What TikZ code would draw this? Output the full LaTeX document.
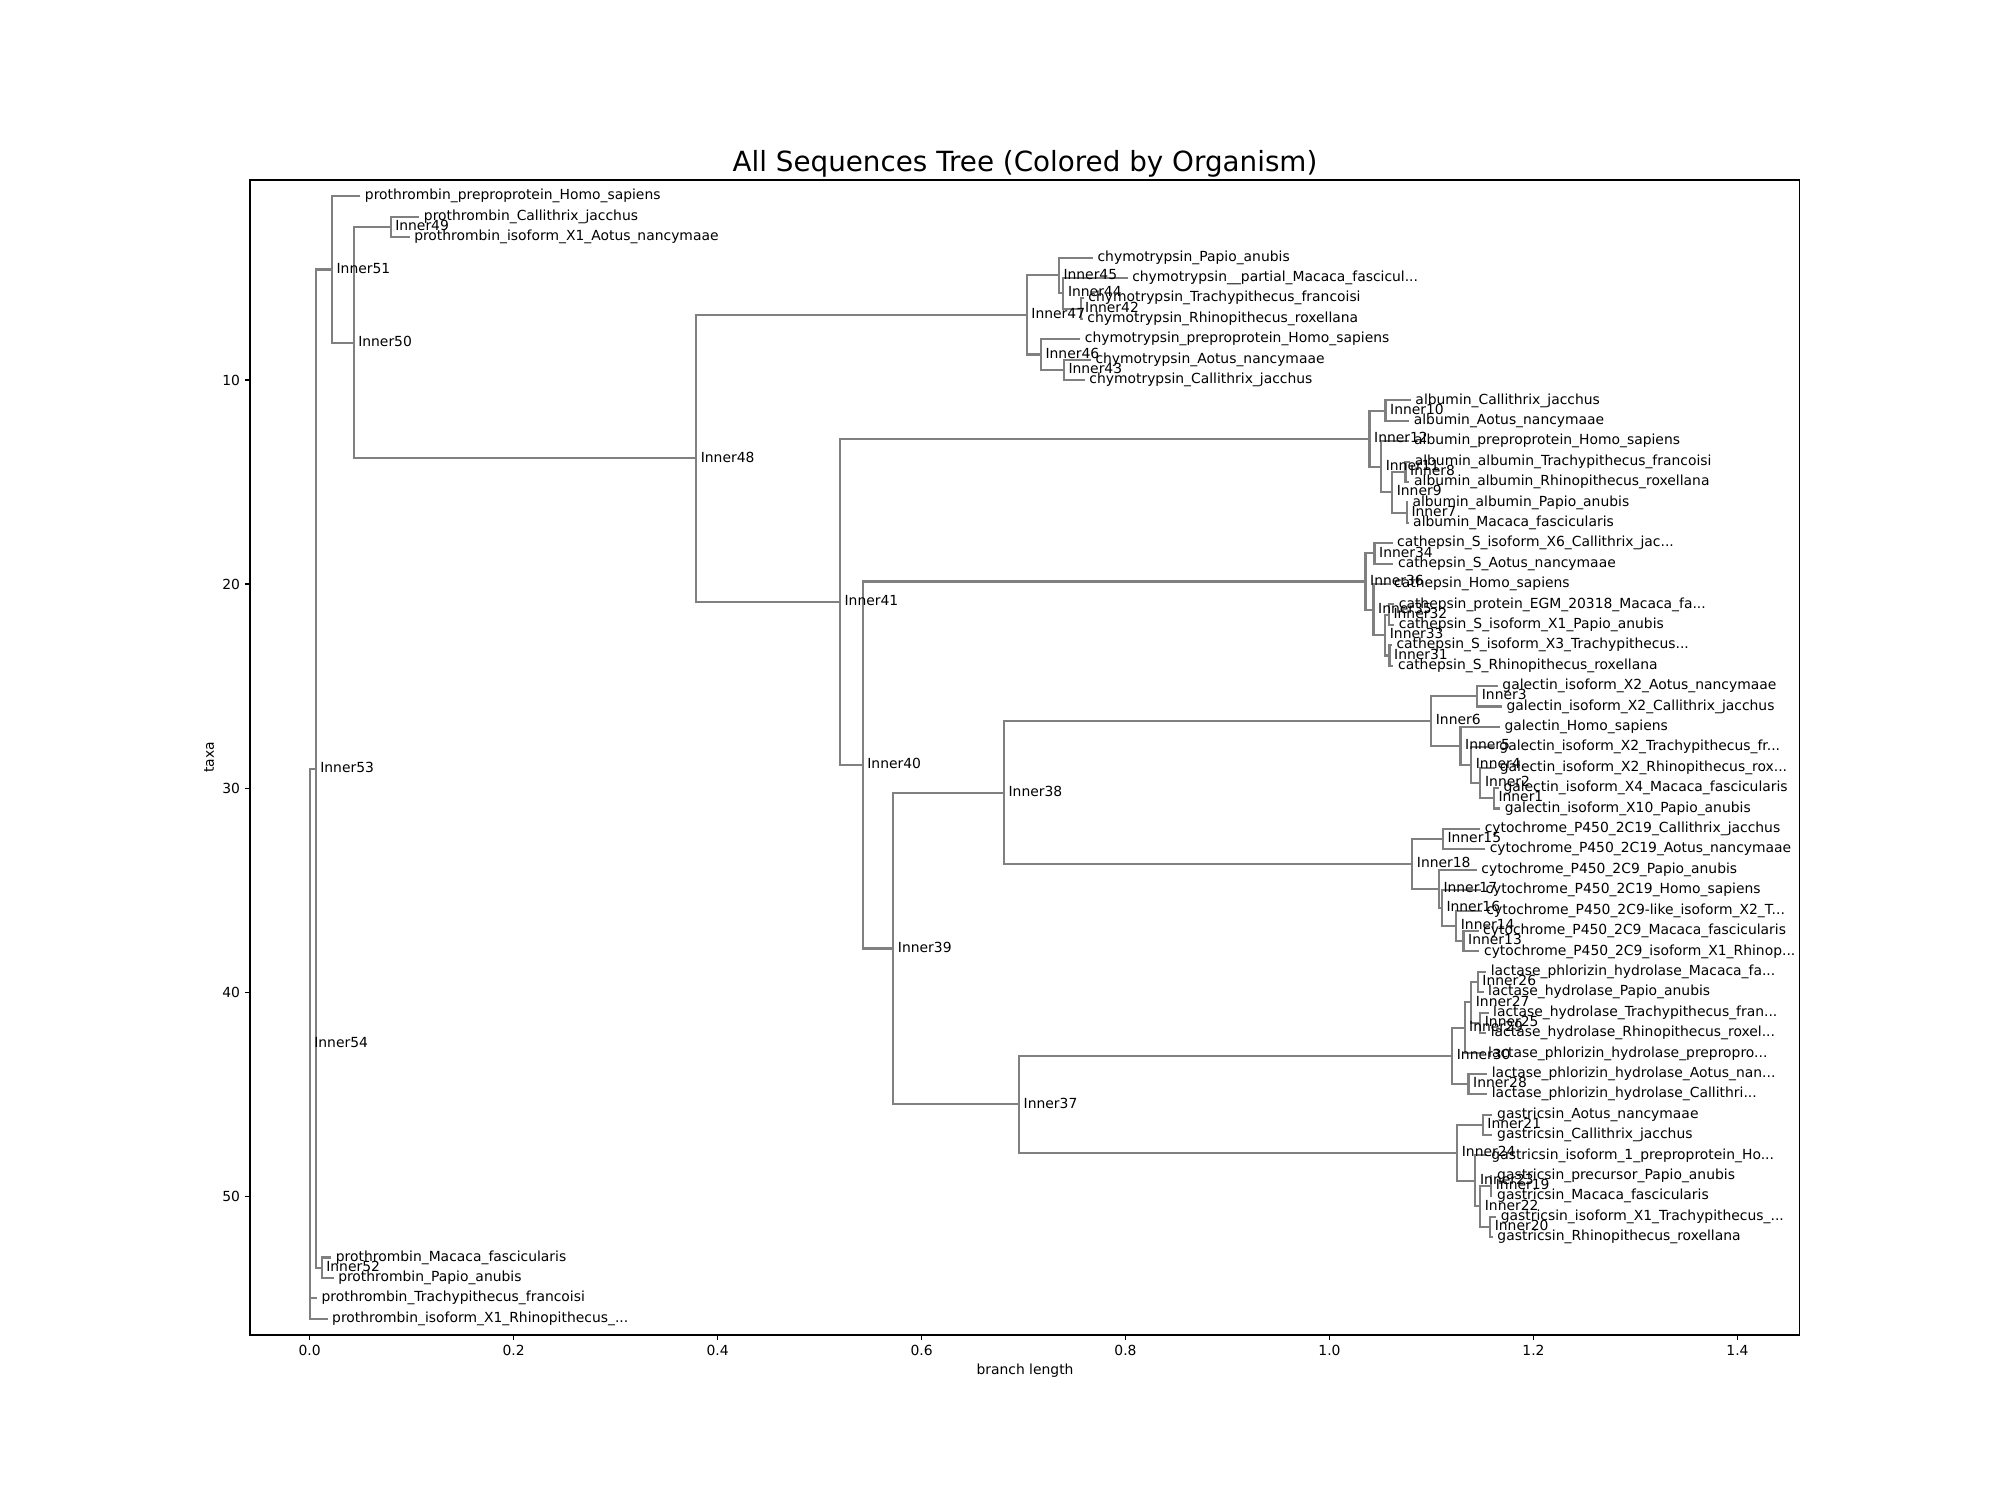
\documentclass[tikz,border=0pt]{standalone}
\usepackage{fontspec}
\setmainfont{DejaVu Sans}
\usetikzlibrary{backgrounds}
\definecolor{treegray}{HTML}{808080}

\begin{document}
\begin{tikzpicture}[
  x=734.3pt, y=-14.692pt,
  font=\fontsize{10}{12}\selectfont,
  br/.style={draw=treegray, line width=1.5pt},
  spine/.style={draw=black, line width=0.8pt},
  tip/.style={anchor=west, inner xsep=3.18pt, inner ysep=0pt,
              text height=7.6pt, text depth=2.36pt},
  ytl/.style={anchor=east, inner sep=0pt, text height=7.6pt, text depth=0pt},
  xtl/.style={anchor=base, inner sep=0pt}
]
\useasboundingbox (-0.30356,-8.6210) rectangle (1.65742,64.887);

% leaves
\node[tip] (t1) at (0.0497,1) {prothrombin\_preproprotein\_Homo\_sapiens};
\node[tip] (t2) at (0.1075,2) {prothrombin\_Callithrix\_jacchus};
\node[tip] (t3) at (0.0980,3) {prothrombin\_isoform\_X1\_Aotus\_nancymaae};
\node[tip] (t4) at (0.7680,4) {chymotrypsin\_Papio\_anubis};
\node[tip] (t5) at (0.8020,5) {chymotrypsin\_\_partial\_Macaca\_fascicul...};
\node[tip] (t6) at (0.7590,6) {chymotrypsin\_Trachypithecus\_francoisi};
\node[tip] (t7) at (0.7580,7) {chymotrypsin\_Rhinopithecus\_roxellana};
\node[tip] (t8) at (0.7556,8) {chymotrypsin\_preproprotein\_Homo\_sapiens};
\node[tip] (t9) at (0.7660,9) {chymotrypsin\_Aotus\_nancymaae};
\node[tip] (t10) at (0.7600,10) {chymotrypsin\_Callithrix\_jacchus};
\node[tip] (t11) at (1.0797,11) {albumin\_Callithrix\_jacchus};
\node[tip] (t12) at (1.0781,12) {albumin\_Aotus\_nancymaae};
\node[tip] (t13) at (1.0784,13) {albumin\_preproprotein\_Homo\_sapiens};
\node[tip] (t14) at (1.0790,14) {albumin\_albumin\_Trachypithecus\_francoisi};
\node[tip] (t15) at (1.0784,15) {albumin\_albumin\_Rhinopithecus\_roxellana};
\node[tip] (t16) at (1.0768,16) {albumin\_albumin\_Papio\_anubis};
\node[tip] (t17) at (1.0775,17) {albumin\_Macaca\_fascicularis};
\node[tip] (t18) at (1.0618,18) {cathepsin\_S\_isoform\_X6\_Callithrix\_jac...};
\node[tip] (t19) at (1.0627,19) {cathepsin\_S\_Aotus\_nancymaae};
\node[tip] (t20) at (1.0588,20) {cathepsin\_Homo\_sapiens};
\node[tip] (t21) at (1.0634,21) {cathepsin\_protein\_EGM\_20318\_Macaca\_fa...};
\node[tip] (t22) at (1.0634,22) {cathepsin\_S\_isoform\_X1\_Papio\_anubis};
\node[tip] (t23) at (1.0611,23) {cathepsin\_S\_isoform\_X3\_Trachypithecus...};
\node[tip] (t24) at (1.0627,24) {cathepsin\_S\_Rhinopithecus\_roxellana};
\node[tip] (t25) at (1.1650,25) {galectin\_isoform\_X2\_Aotus\_nancymaae};
\node[tip] (t26) at (1.1690,26) {galectin\_isoform\_X2\_Callithrix\_jacchus};
\node[tip] (t27) at (1.1670,27) {galectin\_Homo\_sapiens};
\node[tip] (t28) at (1.1620,28) {galectin\_isoform\_X2\_Trachypithecus\_fr...};
\node[tip] (t29) at (1.1624,29) {galectin\_isoform\_X2\_Rhinopithecus\_rox...};
\node[tip] (t30) at (1.1660,30) {galectin\_isoform\_X4\_Macaca\_fascicularis};
\node[tip] (t31) at (1.1673,31) {galectin\_isoform\_X10\_Papio\_anubis};
\node[tip] (t32) at (1.1477,32) {cytochrome\_P450\_2C19\_Callithrix\_jacchus};
\node[tip] (t33) at (1.1526,33) {cytochrome\_P450\_2C19\_Aotus\_nancymaae};
\node[tip] (t34) at (1.1444,34) {cytochrome\_P450\_2C9\_Papio\_anubis};
\node[tip] (t35) at (1.1484,35) {cytochrome\_P450\_2C19\_Homo\_sapiens};
\node[tip] (t36) at (1.1493,36) {cytochrome\_P450\_2C9-like\_isoform\_X2\_T...};
\node[tip] (t37) at (1.1461,37) {cytochrome\_P450\_2C9\_Macaca\_fascicularis};
\node[tip] (t38) at (1.1470,38) {cytochrome\_P450\_2C9\_isoform\_X1\_Rhinop...};
\node[tip] (t39) at (1.1536,39) {lactase\_phlorizin\_hydrolase\_Macaca\_fa...};
\node[tip] (t40) at (1.1510,40) {lactase\_hydrolase\_Papio\_anubis};
\node[tip] (t41) at (1.1559,41) {lactase\_hydrolase\_Trachypithecus\_fran...};
\node[tip] (t42) at (1.1536,42) {lactase\_hydrolase\_Rhinopithecus\_roxel...};
\node[tip] (t43) at (1.1510,43) {lactase\_phlorizin\_hydrolase\_prepropro...};
\node[tip] (t44) at (1.1546,44) {lactase\_phlorizin\_hydrolase\_Aotus\_nan...};
\node[tip] (t45) at (1.1546,45) {lactase\_phlorizin\_hydrolase\_Callithri...};
\node[tip] (t46) at (1.1598,46) {gastricsin\_Aotus\_nancymaae};
\node[tip] (t47) at (1.1598,47) {gastricsin\_Callithrix\_jacchus};
\node[tip] (t48) at (1.1542,48) {gastricsin\_isoform\_1\_preproprotein\_Ho...};
\node[tip] (t49) at (1.1598,49) {gastricsin\_precursor\_Papio\_anubis};
\node[tip] (t50) at (1.1598,50) {gastricsin\_Macaca\_fascicularis};
\node[tip] (t51) at (1.1634,51) {gastricsin\_isoform\_X1\_Trachypithecus\_...};
\node[tip] (t52) at (1.1601,52) {gastricsin\_Rhinopithecus\_roxellana};
\node[tip] (t53) at (0.0212,53) {prothrombin\_Macaca\_fascicularis};
\node[tip] (t54) at (0.0235,54) {prothrombin\_Papio\_anubis};
\node[tip] (t55) at (0.0072,55) {prothrombin\_Trachypithecus\_francoisi};
\node[tip] (t56) at (0.0176,56) {prothrombin\_isoform\_X1\_Rhinopithecus\_...};

% inner clades
\node[tip] (n1) at (1.1611,30.5) {Inner1};
\node[tip] (n2) at (1.1480,29.75) {Inner2};
\node[tip] (n3) at (1.1448,25.5) {Inner3};
\node[tip] (n4) at (1.1389,28.875) {Inner4};
\node[tip] (n5) at (1.1284,27.9375) {Inner5};
\node[tip] (n6) at (1.0997,26.71875) {Inner6};
\node[tip] (n7) at (1.0758,16.5) {Inner7};
\node[tip] (n8) at (1.0745,14.5) {Inner8};
\node[tip] (n9) at (1.0614,15.5) {Inner9};
\node[tip] (n10) at (1.0549,11.5) {Inner10};
\node[tip] (n11) at (1.0506,14.25) {Inner11};
\node[tip] (n12) at (1.0392,12.875) {Inner12};
\node[tip] (n13) at (1.1314,37.5) {Inner13};
\node[tip] (n14) at (1.1242,36.75) {Inner14};
\node[tip] (n15) at (1.1111,32.5) {Inner15};
\node[tip] (n16) at (1.1101,35.875) {Inner16};
\node[tip] (n17) at (1.1072,34.9375) {Inner17};
\node[tip] (n18) at (1.0811,33.71875) {Inner18};
\node[tip] (n19) at (1.1585,49.5) {Inner19};
\node[tip] (n20) at (1.1575,51.5) {Inner20};
\node[tip] (n21) at (1.1503,46.5) {Inner21};
\node[tip] (n22) at (1.1477,50.5) {Inner22};
\node[tip] (n23) at (1.1431,49.25) {Inner23};
\node[tip] (n24) at (1.1252,47.875) {Inner24};
\node[tip] (n25) at (1.1477,41.5) {Inner25};
\node[tip] (n26) at (1.1454,39.5) {Inner26};
\node[tip] (n27) at (1.1389,40.5) {Inner27};
\node[tip] (n28) at (1.1363,44.5) {Inner28};
\node[tip] (n29) at (1.1324,41.75) {Inner29};
\node[tip] (n30) at (1.1203,43.125) {Inner30};
\node[tip] (n31) at (1.0588,23.5) {Inner31};
\node[tip] (n32) at (1.0582,21.5) {Inner32};
\node[tip] (n33) at (1.0546,22.5) {Inner33};
\node[tip] (n34) at (1.0441,18.5) {Inner34};
\node[tip] (n35) at (1.0431,21.25) {Inner35};
\node[tip] (n36) at (1.0353,19.875) {Inner36};
\node[tip] (n37) at (0.6956,45.5) {Inner37};
\node[tip] (n38) at (0.6808,30.21875) {Inner38};
\node[tip] (n39) at (0.5723,37.859) {Inner39};
\node[tip] (n40) at (0.5423,28.867) {Inner40};
\node[tip] (n41) at (0.5200,20.871) {Inner41};
\node[tip] (n42) at (0.7559,6.5) {Inner42};
\node[tip] (n43) at (0.7395,9.5) {Inner43};
\node[tip] (n44) at (0.7390,5.75) {Inner44};
\node[tip] (n45) at (0.7346,4.875) {Inner45};
\node[tip] (n46) at (0.7170,8.75) {Inner46};
\node[tip] (n47) at (0.7032,6.8125) {Inner47};
\node[tip] (n48) at (0.3790,13.842) {Inner48};
\node[tip] (n49) at (0.0794,2.5) {Inner49};
\node[tip] (n50) at (0.0431,8.171) {Inner50};
\node[tip] (n51) at (0.0219,4.585) {Inner51};
\node[tip] (n52) at (0.0118,53.5) {Inner52};
\node[tip] (n53) at (0.0059,29.043) {Inner53};
\node[tip] (n54) at (0,42.521) {Inner54};

% branches, under the labels
\begin{scope}[on background layer]
\fill[white] (-0.30356,-8.6210) rectangle (1.65742,64.887);
\draw[br] (n53.west) -- (n54.west |- n53.west) -- (n54.west |- t56.west) -- (t56.west);
\draw[br] (n54.west |- t55.west) -- (t55.west);
\draw[br] (n51.west) -- (n53.west |- n51.west) -- (n53.west |- n52.west) -- (n52.west);
\draw[br] (t1.west) -- (n51.west |- t1.west) -- (n51.west |- n50.west) -- (n50.west);
\draw[br] (n49.west) -- (n50.west |- n49.west) -- (n50.west |- n48.west) -- (n48.west);
\draw[br] (t2.west) -- (n49.west |- t2.west) -- (n49.west |- t3.west) -- (t3.west);
\draw[br] (n47.west) -- (n48.west |- n47.west) -- (n48.west |- n41.west) -- (n41.west);
\draw[br] (n45.west) -- (n47.west |- n45.west) -- (n47.west |- n46.west) -- (n46.west);
\draw[br] (t4.west) -- (n45.west |- t4.west) -- (n45.west |- n44.west) -- (n44.west);
\draw[br] (t5.west) -- (n44.west |- t5.west) -- (n44.west |- n42.west) -- (n42.west);
\draw[br] (t6.west) -- (n42.west |- t6.west) -- (n42.west |- t7.west) -- (t7.west);
\draw[br] (t8.west) -- (n46.west |- t8.west) -- (n46.west |- n43.west) -- (n43.west);
\draw[br] (t9.west) -- (n43.west |- t9.west) -- (n43.west |- t10.west) -- (t10.west);
\draw[br] (n12.west) -- (n41.west |- n12.west) -- (n41.west |- n40.west) -- (n40.west);
\draw[br] (n10.west) -- (n12.west |- n10.west) -- (n12.west |- n11.west) -- (n11.west);
\draw[br] (t11.west) -- (n10.west |- t11.west) -- (n10.west |- t12.west) -- (t12.west);
\draw[br] (t13.west) -- (n11.west |- t13.west) -- (n11.west |- n9.west) -- (n9.west);
\draw[br] (n8.west) -- (n9.west |- n8.west) -- (n9.west |- n7.west) -- (n7.west);
\draw[br] (t14.west) -- (n8.west |- t14.west) -- (n8.west |- t15.west) -- (t15.west);
\draw[br] (t16.west) -- (n7.west |- t16.west) -- (n7.west |- t17.west) -- (t17.west);
\draw[br] (n36.west) -- (n40.west |- n36.west) -- (n40.west |- n39.west) -- (n39.west);
\draw[br] (n34.west) -- (n36.west |- n34.west) -- (n36.west |- n35.west) -- (n35.west);
\draw[br] (t18.west) -- (n34.west |- t18.west) -- (n34.west |- t19.west) -- (t19.west);
\draw[br] (t20.west) -- (n35.west |- t20.west) -- (n35.west |- n33.west) -- (n33.west);
\draw[br] (n32.west) -- (n33.west |- n32.west) -- (n33.west |- n31.west) -- (n31.west);
\draw[br] (t21.west) -- (n32.west |- t21.west) -- (n32.west |- t22.west) -- (t22.west);
\draw[br] (t23.west) -- (n31.west |- t23.west) -- (n31.west |- t24.west) -- (t24.west);
\draw[br] (n38.west) -- (n39.west |- n38.west) -- (n39.west |- n37.west) -- (n37.west);
\draw[br] (n6.west) -- (n38.west |- n6.west) -- (n38.west |- n18.west) -- (n18.west);
\draw[br] (n3.west) -- (n6.west |- n3.west) -- (n6.west |- n5.west) -- (n5.west);
\draw[br] (t25.west) -- (n3.west |- t25.west) -- (n3.west |- t26.west) -- (t26.west);
\draw[br] (t27.west) -- (n5.west |- t27.west) -- (n5.west |- n4.west) -- (n4.west);
\draw[br] (t28.west) -- (n4.west |- t28.west) -- (n4.west |- n2.west) -- (n2.west);
\draw[br] (t29.west) -- (n2.west |- t29.west) -- (n2.west |- n1.west) -- (n1.west);
\draw[br] (t30.west) -- (n1.west |- t30.west) -- (n1.west |- t31.west) -- (t31.west);
\draw[br] (n15.west) -- (n18.west |- n15.west) -- (n18.west |- n17.west) -- (n17.west);
\draw[br] (t32.west) -- (n15.west |- t32.west) -- (n15.west |- t33.west) -- (t33.west);
\draw[br] (t34.west) -- (n17.west |- t34.west) -- (n17.west |- n16.west) -- (n16.west);
\draw[br] (t35.west) -- (n16.west |- t35.west) -- (n16.west |- n14.west) -- (n14.west);
\draw[br] (t36.west) -- (n14.west |- t36.west) -- (n14.west |- n13.west) -- (n13.west);
\draw[br] (t37.west) -- (n13.west |- t37.west) -- (n13.west |- t38.west) -- (t38.west);
\draw[br] (n30.west) -- (n37.west |- n30.west) -- (n37.west |- n24.west) -- (n24.west);
\draw[br] (n29.west) -- (n30.west |- n29.west) -- (n30.west |- n28.west) -- (n28.west);
\draw[br] (n27.west) -- (n29.west |- n27.west) -- (n29.west |- t43.west) -- (t43.west);
\draw[br] (n26.west) -- (n27.west |- n26.west) -- (n27.west |- n25.west) -- (n25.west);
\draw[br] (t39.west) -- (n26.west |- t39.west) -- (n26.west |- t40.west) -- (t40.west);
\draw[br] (t41.west) -- (n25.west |- t41.west) -- (n25.west |- t42.west) -- (t42.west);
\draw[br] (t44.west) -- (n28.west |- t44.west) -- (n28.west |- t45.west) -- (t45.west);
\draw[br] (n21.west) -- (n24.west |- n21.west) -- (n24.west |- n23.west) -- (n23.west);
\draw[br] (t46.west) -- (n21.west |- t46.west) -- (n21.west |- t47.west) -- (t47.west);
\draw[br] (t48.west) -- (n23.west |- t48.west) -- (n23.west |- n22.west) -- (n22.west);
\draw[br] (n19.west) -- (n22.west |- n19.west) -- (n22.west |- n20.west) -- (n20.west);
\draw[br] (t49.west) -- (n19.west |- t49.west) -- (n19.west |- t50.west) -- (t50.west);
\draw[br] (t51.west) -- (n20.west |- t51.west) -- (n20.west |- t52.west) -- (t52.west);
\draw[br] (t53.west) -- (n52.west |- t53.west) -- (n52.west |- t54.west) -- (t54.west);
\end{scope}

% axes
\draw[spine] (-0.05845,0.2) rectangle (1.46125,56.8);
\draw[spine] (0,56.8) -- ++(0,-3.5pt);
\draw[spine] (0.2,56.8) -- ++(0,-3.5pt);
\draw[spine] (0.4,56.8) -- ++(0,-3.5pt);
\draw[spine] (0.6,56.8) -- ++(0,-3.5pt);
\draw[spine] (0.8,56.8) -- ++(0,-3.5pt);
\draw[spine] (1.0,56.8) -- ++(0,-3.5pt);
\draw[spine] (1.2,56.8) -- ++(0,-3.5pt);
\draw[spine] (1.4,56.8) -- ++(0,-3.5pt);
\draw[spine] (-0.05845,10) -- ++(-3.5pt,0);
\draw[spine] (-0.05845,20) -- ++(-3.5pt,0);
\draw[spine] (-0.05845,30) -- ++(-3.5pt,0);
\draw[spine] (-0.05845,40) -- ++(-3.5pt,0);
\draw[spine] (-0.05845,50) -- ++(-3.5pt,0);

\node[xtl] (x00) at (0,57.795) {0.0};
\node[xtl] (x02) at (0.2,57.795) {0.2};
\node[xtl] (x04) at (0.4,57.795) {0.4};
\node[xtl] (x06) at (0.6,57.795) {0.6};
\node[xtl] (x08) at (0.8,57.795) {0.8};
\node[xtl] (x10) at (1.0,57.795) {1.0};
\node[xtl] (x12) at (1.2,57.795) {1.2};
\node[xtl] (x14) at (1.4,57.795) {1.4};
\node[ytl] (y10) at (-0.06795,10) {10};
\node[ytl] (y20) at (-0.06795,20) {20};
\node[ytl] (y30) at (-0.06795,30) {30};
\node[ytl] (y40) at (-0.06795,40) {40};
\node[ytl] (y50) at (-0.06795,50) {50};

\node[anchor=base, inner sep=0pt] (xlab) at (0.70144,58.75) {branch length};
\node[anchor=base, inner sep=0pt, rotate=90] (ylab) at (-0.0939,28.5) {taxa};
\node[anchor=base, inner sep=0pt, font=\fontsize{20}{24}\selectfont] (title)
  at (0.70144,-0.207) {All Sequences Tree (Colored by Organism)};

\end{tikzpicture}
\end{document}
